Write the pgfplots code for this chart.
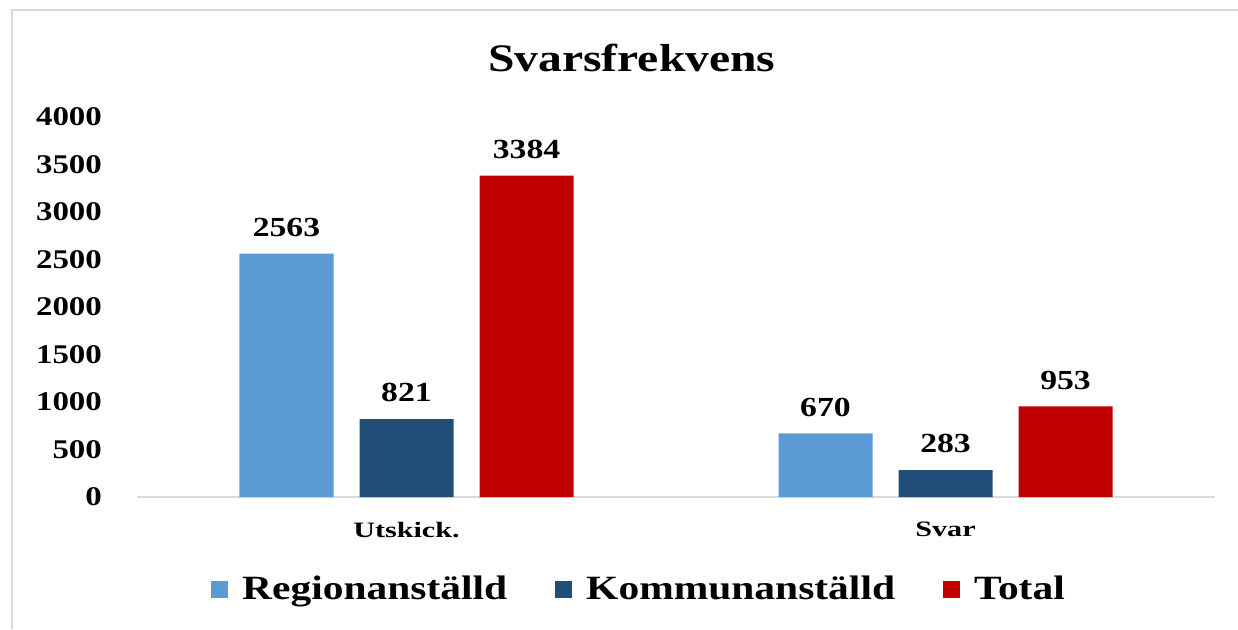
\documentclass[border=0pt]{standalone}
\usepackage{fontspec}
\setmainfont{Liberation Serif}[FakeStretch=1.22]
\newfontfamily\catfont{Liberation Serif}[FakeStretch=1.37]
\usepackage{pgfplots}
\pgfplotsset{compat=1.18}
\definecolor{cRegion}{HTML}{5B9BD5}
\definecolor{cKommun}{HTML}{1F4E79}
\definecolor{cTotal}{HTML}{C00000}
\definecolor{cGrid}{HTML}{D9D9D9}
\begin{document}
\begin{tikzpicture}
\path[fill=white] (0,0) rectangle (619pt,314.5pt);
\draw[cGrid, line width=1.3pt] (6pt,0) -- (6pt,309.5pt) -- (619pt,309.5pt);
\begin{axis}[
  at={(68.5pt,66pt)}, anchor=south west,
  scale only axis, width=539pt, height=190pt,
  ymin=0, ymax=4000, xmin=-0.5, xmax=1.5,
  ytick={0,500,...,4000},
  xtick={0,1}, xticklabels={Utskick.,Svar},
  axis x line*=bottom, axis y line*=left,
  x axis line style={cGrid, line width=1pt, -},
  y axis line style={draw=none},
  major tick length=0pt,
  /pgf/number format/assume math mode=true,
  /pgf/number format/1000 sep={},
  yticklabel style={font=\fontsize{13.5}{15}\selectfont\bfseries, xshift=-14pt},
  xticklabel style={font=\catfont\fontsize{11}{13}\selectfont\bfseries, yshift=-9pt},
  ybar, bar width=47pt,
  nodes near coords,
  every node near coord/.append style={font=\fontsize{13.8}{15}\selectfont\bfseries, black, yshift=5pt},
  title={Svarsfrekvens},
  title style={at={(axis description cs:0.459,1.125)}, anchor=center, font=\fontsize{19.5}{22}\selectfont\bfseries},
  legend style={draw=none, fill=none, at={(axis description cs:0.4666,-0.242)}, anchor=center,
    legend columns=-1, font=\fontsize{17}{19}\selectfont\bfseries,
    /tikz/every even column/.append style={column sep=22pt},
    /tikz/every odd column/.append style={column sep=5pt}},
  legend image code/.code={\fill[#1] (0pt,-4.5pt) rectangle (8.5pt,4pt);},
]
\addplot[fill=cRegion, draw=none, bar shift=-60pt] coordinates {(0,2563) (1,670)};
\addplot[fill=cKommun, draw=none, bar shift=0pt] coordinates {(0,821) (1,283)};
\addplot[fill=cTotal, draw=none, bar shift=60pt] coordinates {(0,3384) (1,953)};
\legend{Regionanställd,Kommunanställd,Total}
\end{axis}
\pgfresetboundingbox
\useasboundingbox (0,0) rectangle (619pt,314.5pt);
\end{tikzpicture}
\end{document}
